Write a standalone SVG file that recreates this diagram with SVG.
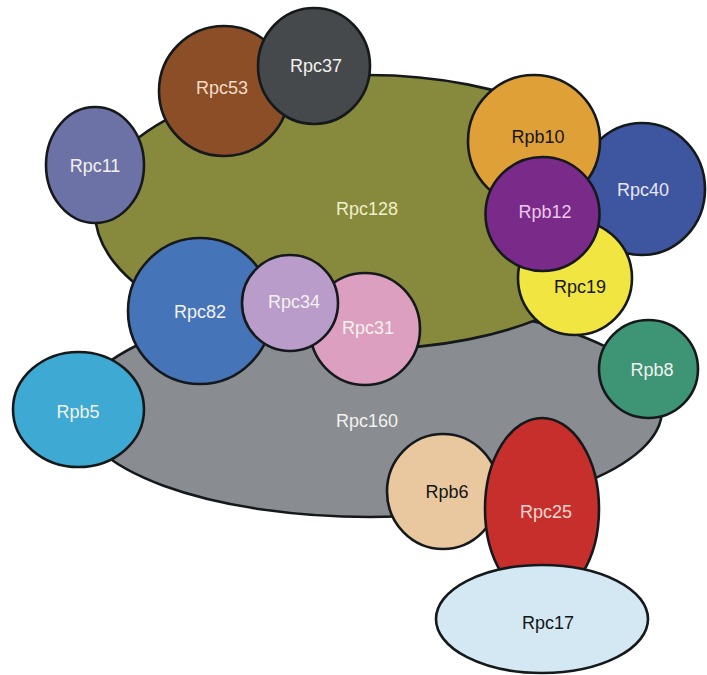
<svg xmlns="http://www.w3.org/2000/svg" width="707" height="675" viewBox="0 0 707 675">
<style>
.n{stroke:#15191b;stroke-width:2.6}
.t{font-family:"Liberation Sans",Arial,sans-serif;font-size:18px;text-anchor:middle;dominant-baseline:central}
.w{fill:#f3f1ee}
.d{fill:#151515}
</style>
<rect width="707" height="675" fill="#ffffff"/>
<g id="connectors"/>
<g id="Rpc160"><ellipse class="n" cx="370" cy="410" rx="292" ry="107" fill="#898c91"/><text class="t w" x="367" y="421">Rpc160</text></g>
<g id="Rpc128"><ellipse class="n" cx="368" cy="212" rx="273" ry="137" fill="#878a3c"/><text class="t" x="367" y="209" fill="#efefc8">Rpc128</text></g>
<g id="Rpc11"><ellipse class="n" cx="95" cy="165" rx="49" ry="58" fill="#6d72a6"/><text class="t w" x="95" y="166">Rpc11</text></g>
<g id="Rpc53"><ellipse class="n" cx="224" cy="91" rx="65" ry="65" fill="#8b4e27"/><text class="t" x="222" y="88" fill="#f4dcc8">Rpc53</text></g>
<g id="Rpc37"><ellipse class="n" cx="314" cy="66" rx="56" ry="58" fill="#45494b"/><text class="t w" x="316" y="66">Rpc37</text></g>
<g id="Rpc82"><ellipse class="n" cx="200" cy="311" rx="72" ry="73" fill="#4674b8"/><text class="t w" x="200" y="312">Rpc82</text></g>
<g id="Rpc31"><ellipse class="n" cx="365" cy="329" rx="55" ry="56" fill="#dc9fc0"/><text class="t w" x="368" y="328">Rpc31</text></g>
<g id="Rpc34"><ellipse class="n" cx="290" cy="303" rx="48" ry="48" fill="#b99cca"/><text class="t w" x="294" y="302">Rpc34</text></g>
<g id="Rpc40"><ellipse class="n" cx="642" cy="189" rx="63" ry="66" fill="#3e559f"/><text class="t" x="643" y="190" fill="#e6e6f4">Rpc40</text></g>
<g id="Rpc19"><ellipse class="n" cx="575" cy="278" rx="57" ry="57" fill="#f0e541"/><text class="t d" x="580" y="287">Rpc19</text></g>
<g id="Rpb10"><ellipse class="n" cx="534" cy="141" rx="66" ry="66" fill="#e0a038"/><text class="t d" x="538" y="137">Rpb10</text></g>
<g id="Rpb12"><ellipse class="n" cx="542.5" cy="214" rx="57" ry="57" fill="#7a2b89"/><text class="t" x="545" y="212" fill="#ecc8ec">Rpb12</text></g>
<g id="Rpb8"><ellipse class="n" cx="648.5" cy="369" rx="49.5" ry="49" fill="#3d9576"/><text class="t w" x="652" y="370">Rpb8</text></g>
<g id="Rpb5"><ellipse class="n" cx="78.5" cy="409.5" rx="65.5" ry="57.5" fill="#3eaad3"/><text class="t w" x="78" y="412">Rpb5</text></g>
<g id="Rpb6"><ellipse class="n" cx="443" cy="491.5" rx="56" ry="57.5" fill="#e9c8a0"/><text class="t d" x="447" y="492">Rpb6</text></g>
<g id="Rpc25"><ellipse class="n" cx="542" cy="509" rx="57" ry="91" fill="#c72f2d"/><text class="t" x="546" y="512" fill="#f3d6d0">Rpc25</text></g>
<g id="Rpc17"><ellipse class="n" cx="542" cy="619" rx="106" ry="54" fill="#d3e8f3"/><text class="t d" x="548" y="623">Rpc17</text></g>
</svg>
